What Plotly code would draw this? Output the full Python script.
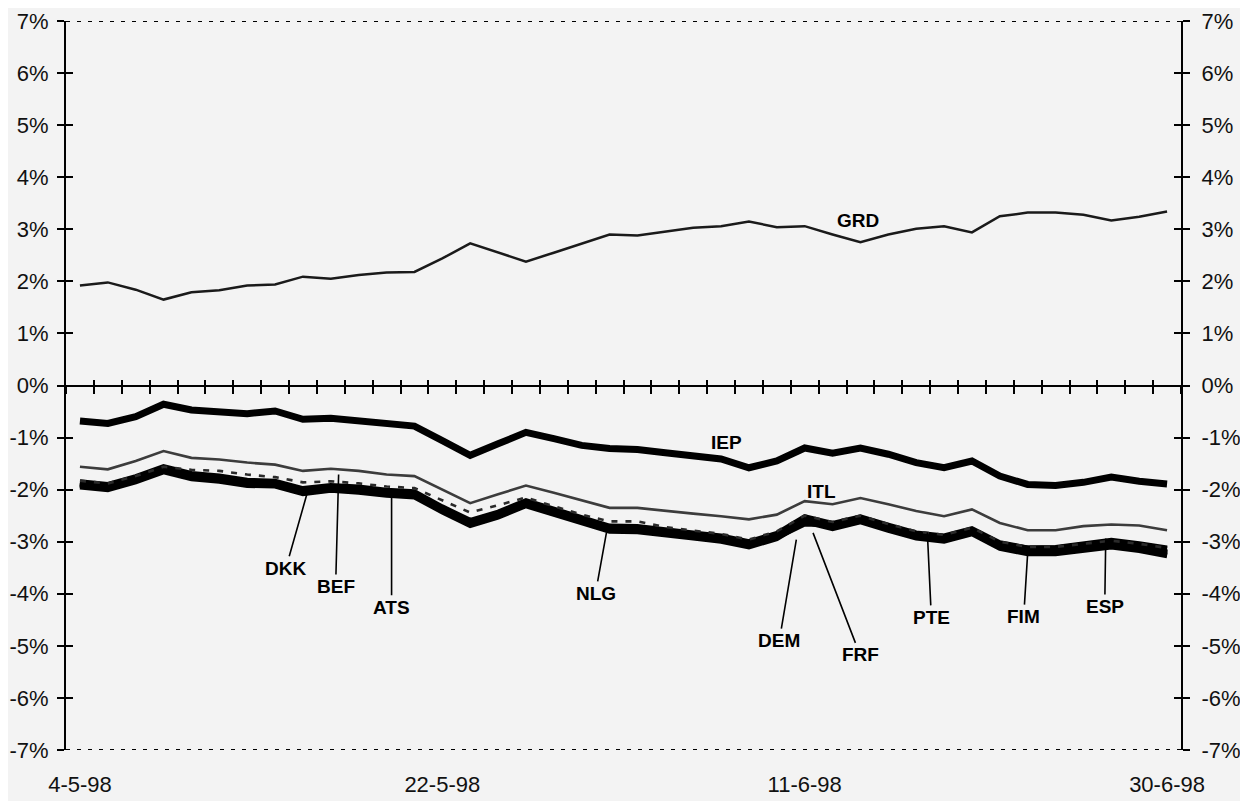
import plotly.graph_objects as go

# ---- data -------------------------------------------------------------
dates = ["4-5-98", "5-5-98", "6-5-98", "7-5-98", "8-5-98",
         "11-5-98", "12-5-98", "13-5-98", "14-5-98", "15-5-98",
         "18-5-98", "19-5-98", "20-5-98", "22-5-98",
         "25-5-98", "26-5-98", "27-5-98", "28-5-98", "29-5-98",
         "2-6-98", "3-6-98", "4-6-98", "5-6-98",
         "8-6-98", "9-6-98", "10-6-98", "11-6-98", "12-6-98",
         "15-6-98", "16-6-98", "17-6-98", "18-6-98", "19-6-98",
         "22-6-98", "23-6-98", "24-6-98", "25-6-98", "26-6-98",
         "29-6-98", "30-6-98"]
tick_dates = ["4-5-98", "22-5-98", "11-6-98", "30-6-98"]

GRD = [1.92, 1.98, 1.84, 1.65, 1.79, 1.83, 1.92, 1.94, 2.09, 2.05,
       2.12, 2.17, 2.18, 2.44, 2.73, 2.55, 2.38, 2.55, 2.72, 2.90,
       2.88, 2.96, 3.03, 3.06, 3.15, 3.04, 3.06, 2.90, 2.75, 2.90,
       3.01, 3.06, 2.94, 3.25, 3.32, 3.32, 3.28, 3.17, 3.24, 3.34]
IEP = [-0.68, -0.73, -0.60, -0.36, -0.47, -0.51, -0.54, -0.49, -0.65, -0.63,
       -0.67, -0.74, -0.78, -1.06, -1.34, -1.12, -0.90, -1.02, -1.15, -1.21,
       -1.23, -1.29, -1.36, -1.41, -1.58, -1.45, -1.20, -1.30, -1.20, -1.32,
       -1.48, -1.58, -1.45, -1.74, -1.90, -1.92, -1.86, -1.76, -1.84, -1.89]
ITL = [-1.56, -1.61, -1.45, -1.26, -1.39, -1.42, -1.48, -1.52, -1.64, -1.60,
       -1.64, -1.71, -1.74, -2.00, -2.26, -2.09, -1.92, -2.06, -2.20, -2.35,
       -2.35, -2.41, -2.46, -2.51, -2.57, -2.48, -2.22, -2.28, -2.16, -2.28,
       -2.41, -2.51, -2.38, -2.64, -2.78, -2.78, -2.70, -2.67, -2.69, -2.78]
DKK = [-1.85, -1.90, -1.75, -1.56, -1.69, -1.74, -1.82, -1.84, -1.98, -1.92,
       -1.95, -2.01, -2.04, -2.33, -2.59, -2.43, -2.21, -2.38, -2.55, -2.70,
       -2.71, -2.78, -2.83, -2.89, -3.00, -2.84, -2.52, -2.65, -2.52, -2.68,
       -2.83, -2.89, -2.75, -3.02, -3.12, -3.12, -3.06, -2.99, -3.06, -3.14]
BEF = [-1.83, -1.88, -1.74, -1.56, -1.62, -1.64, -1.71, -1.76, -1.86, -1.84,
       -1.88, -1.94, -1.97, -2.20, -2.44, -2.30, -2.15, -2.32, -2.48, -2.61,
       -2.61, -2.72, -2.79, -2.85, -2.96, -2.80, -2.50, -2.62, -2.50, -2.66,
       -2.80, -2.87, -2.73, -3.00, -3.10, -3.10, -3.04, -2.98, -3.04, -3.12]
ATS = [-1.95, -2.00, -1.85, -1.66, -1.79, -1.84, -1.92, -1.93, -2.08, -2.01,
       -2.05, -2.11, -2.14, -2.43, -2.69, -2.53, -2.31, -2.48, -2.65, -2.80,
       -2.81, -2.88, -2.93, -2.99, -3.10, -2.94, -2.62, -2.75, -2.62, -2.78,
       -2.93, -2.99, -2.85, -3.13, -3.23, -3.23, -3.17, -3.10, -3.17, -3.27]
NLG = [-1.90, -1.95, -1.80, -1.61, -1.74, -1.79, -1.87, -1.88, -2.03, -1.96,
       -2.00, -2.06, -2.09, -2.38, -2.64, -2.48, -2.26, -2.43, -2.60, -2.75,
       -2.76, -2.83, -2.88, -2.94, -3.05, -2.89, -2.57, -2.70, -2.57, -2.73,
       -2.88, -2.94, -2.80, -3.08, -3.18, -3.18, -3.12, -3.05, -3.12, -3.21]
DEM = [-1.88, -1.93, -1.78, -1.59, -1.72, -1.77, -1.85, -1.87, -2.01, -1.95,
       -1.98, -2.04, -2.07, -2.36, -2.62, -2.46, -2.24, -2.41, -2.58, -2.73,
       -2.74, -2.81, -2.86, -2.92, -3.03, -2.92, -2.66, -2.68, -2.55, -2.71,
       -2.86, -2.92, -2.78, -3.06, -3.16, -3.16, -3.10, -3.03, -3.10, -3.19]
FRF = [-1.89, -1.94, -1.79, -1.60, -1.73, -1.78, -1.86, -1.89, -2.02, -1.97,
       -2.01, -2.05, -2.08, -2.37, -2.63, -2.47, -2.25, -2.42, -2.59, -2.74,
       -2.75, -2.82, -2.87, -2.93, -3.04, -2.87, -2.60, -2.67, -2.56, -2.72,
       -2.87, -2.93, -2.79, -3.07, -3.17, -3.17, -3.11, -3.04, -3.11, -3.20]
PTE = [-1.92, -1.97, -1.82, -1.63, -1.76, -1.81, -1.89, -1.90, -2.05, -1.98,
       -2.02, -2.08, -2.11, -2.40, -2.66, -2.50, -2.28, -2.45, -2.62, -2.77,
       -2.78, -2.85, -2.90, -2.96, -3.07, -2.91, -2.59, -2.72, -2.59, -2.75,
       -2.90, -2.96, -2.82, -3.10, -3.20, -3.20, -3.14, -3.07, -3.14, -3.23]
FIM = [-1.91, -1.96, -1.81, -1.62, -1.75, -1.80, -1.88, -1.89, -2.04, -1.97,
       -2.01, -2.07, -2.10, -2.39, -2.65, -2.49, -2.27, -2.44, -2.61, -2.76,
       -2.77, -2.84, -2.89, -2.95, -3.06, -2.90, -2.58, -2.71, -2.58, -2.74,
       -2.89, -2.95, -2.81, -3.10, -3.21, -3.21, -3.15, -3.08, -3.15, -3.25]
ESP = [-1.87, -1.92, -1.77, -1.58, -1.71, -1.76, -1.84, -1.86, -2.00, -1.94,
       -1.97, -2.03, -2.06, -2.35, -2.61, -2.45, -2.23, -2.40, -2.57, -2.72,
       -2.73, -2.80, -2.85, -2.91, -3.02, -2.86, -2.54, -2.67, -2.54, -2.70,
       -2.85, -2.91, -2.77, -3.04, -3.12, -3.11, -3.05, -2.97, -3.04, -3.12]

y_ticks = [7, 6, 5, 4, 3, 2, 1, 0, -1, -2, -3, -4, -5, -6, -7]
y_ticktext = ["7%", "6%", "5%", "4%", "3%", "2%", "1%", "0%",
              "-1%", "-2%", "-3%", "-4%", "-5%", "-6%", "-7%"]

# label name, tip (x index, y), text offset (px)
arrow_labels = [
    ("DKK", 8.14, -2.09, -21, 74),
    ("BEF", 9.28, -1.71, -3, 112),
    ("ATS", 11.18, -2.09, 0, 113),
    ("NLG", 18.89, -2.82, -11, 61),
    ("DEM", 25.70, -2.96, -17, 101),
    ("FRF", 26.30, -2.83, 47, 122),
    ("PTE", 30.40, -2.82, 4, 85),
    ("FIM", 34.00, -3.21, -4, 64),
    ("ESP", 36.80, -2.94, -1, 68),
]
plain_labels = [("GRD", 27.9, 3.17), ("IEP", 23.2, -1.09), ("ITL", 26.6, -2.03)]

FONT = "Liberation Sans, Arial, Helvetica, sans-serif"
BG = "#f3f3f3"

fig = go.Figure()

def add_line(vals, color, width, dash="solid"):
    fig.add_trace(go.Scatter(x=dates, y=vals, mode="lines",
                             line=dict(color=color, width=width, dash=dash),
                             showlegend=False, hoverinfo="skip"))

add_line(GRD, "#1a1a1a", 2.5)
add_line(IEP, "#000000", 7)
add_line(ITL, "#3c3c3c", 2.6)
for s in [DKK, ATS, NLG, DEM, FRF, PTE, FIM, ESP]:
    add_line(s, "#000000", 5)
add_line(BEF, "#2a2a2a", 2.6, "6px,8px")

# helper (empty) traces so overlay axes are drawn
for xa, ya in [("x2", "y"), ("x3", "y"), ("x", "y2"), ("x", "y3"), ("x", "y4")]:
    fig.add_trace(go.Scatter(x=[], y=[], xaxis=xa, yaxis=ya, showlegend=False))

tickfont = dict(family=FONT, size=22, color="#111111")
yrange = [-7, 7]

# page body has an 8px margin, so the figure is sized 1240x793
fig.update_layout(
    width=1240, height=793,
    margin=dict(l=58, r=67, t=13, b=51, autoexpand=False),
    paper_bgcolor=BG, plot_bgcolor=BG,
    showlegend=False,
    xaxis=dict(type="category", categoryarray=dates, range=[-0.5, 39.5],
               tickvals=tick_dates, ticktext=tick_dates, ticks="",
               showline=False, showgrid=False, zeroline=False, automargin=False,
               tickfont=tickfont, ticklabelstandoff=19),
    xaxis2=dict(overlaying="x", anchor="free", position=0.5, range=[-0.5, 39.5],
                tick0=0.5, dtick=1, ticks="outside", ticklen=7, tickwidth=1.5,
                tickcolor="black", showticklabels=False, showline=True,
                linewidth=2, linecolor="black", showgrid=False, zeroline=False,
                automargin=False),
    xaxis3=dict(overlaying="x", anchor="free", position=0.5, range=[-0.5, 39.5],
                tick0=0.5, dtick=1, ticks="inside", ticklen=6, tickwidth=1.5,
                tickcolor="black", showticklabels=False, showline=False,
                showgrid=False, zeroline=False, automargin=False),
    yaxis=dict(range=yrange, tickvals=y_ticks, ticktext=y_ticktext,
               ticks="outside", ticklen=7, tickwidth=1.5, tickcolor="black",
               showline=True, linewidth=2, linecolor="black", automargin=False,
               showgrid=False, zeroline=False, tickfont=tickfont,
               ticklabelstandoff=4),
    yaxis2=dict(range=yrange, tickvals=y_ticks, ticktext=y_ticktext,
                overlaying="y", side="right", anchor="x", automargin=False,
                ticks="outside", ticklen=7, tickwidth=1.5, tickcolor="black",
                showline=True, linewidth=2, linecolor="black",
                showgrid=False, zeroline=False, tickfont=tickfont,
                ticklabelstandoff=7),
    yaxis3=dict(range=yrange, tickvals=y_ticks, overlaying="y", side="left",
                anchor="x", ticks="inside", ticklen=7, tickwidth=1.5,
                tickcolor="black", showticklabels=False, showline=False,
                showgrid=False, zeroline=False, automargin=False),
    yaxis4=dict(range=yrange, tickvals=y_ticks, overlaying="y", side="right",
                anchor="x", ticks="inside", ticklen=7, tickwidth=1.5,
                tickcolor="black", showticklabels=False, showline=False,
                showgrid=False, zeroline=False, automargin=False),
)

for yv in [7, -7]:
    fig.add_shape(type="line", xref="paper", x0=0, x1=1, yref="y", y0=yv, y1=yv,
                  line=dict(color="black", width=2, dash="4px,7px"))

lab_font = dict(family=FONT, size=19, color="black")
for name, x, y in plain_labels:
    fig.add_annotation(x=x, y=y, xref="x", yref="y", text="<b>%s</b>" % name,
                       showarrow=False, font=lab_font)
for name, x, y, ax, ay in arrow_labels:
    fig.add_annotation(x=x, y=y, xref="x", yref="y", text="<b>%s</b>" % name,
                       showarrow=True, arrowhead=0, arrowwidth=1.6,
                       arrowcolor="black", ax=ax, ay=ay, standoff=0,
                       font=lab_font)

fig.write_html("out.html")
